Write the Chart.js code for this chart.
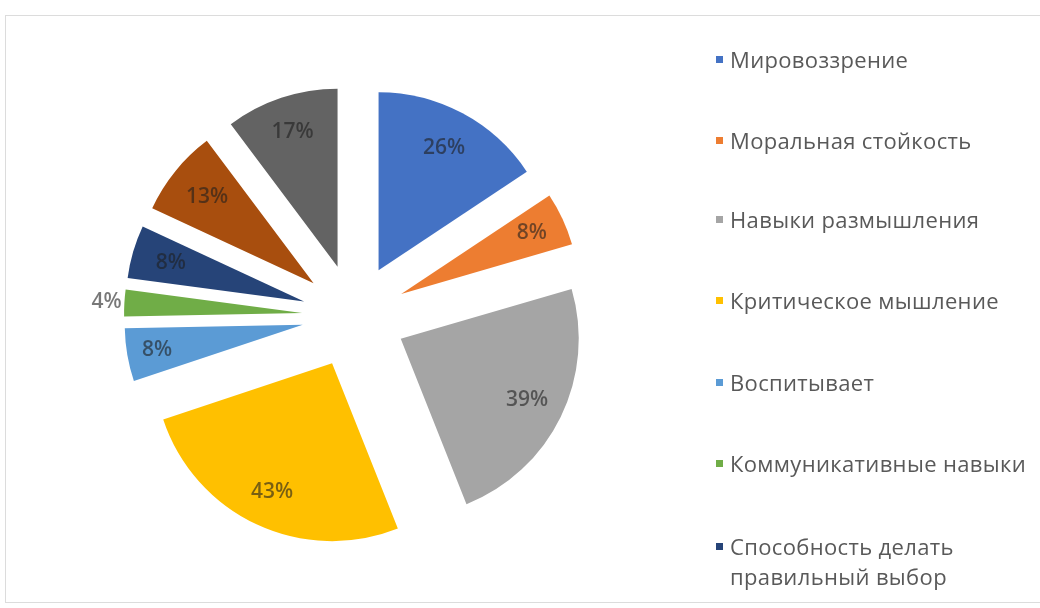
<!DOCTYPE html>
<html>
<head>
<meta charset="utf-8">
<script src="https://cdn.jsdelivr.net/npm/chart.js@4/dist/chart.umd.min.js"></script>
<style>
  html, body { margin:0; padding:0; background:#fff; }
  #wrap { position:relative; width:1040px; height:608px; overflow:hidden; background:#fff; }
  #frame { position:absolute; left:5px; top:15px; width:1100px; height:588px; border:1.5px solid #dcdcdc; box-sizing:border-box; }
  #chart { position:absolute; left:0; top:0; }
  #legend { position:absolute; left:716px; top:0; font-family:"Open Sans", sans-serif; font-size:22px; color:#595959; }
  .item { position:absolute; left:0; white-space:nowrap; line-height:30px; }
  .sw { position:absolute; left:0; top:12px; width:7px; height:7px; }
  .txt { position:absolute; left:14px; top:0; letter-spacing:0.35px; }
</style>
</head>
<body>
<div id="wrap">
  <div id="frame"></div>
  <canvas id="chart" width="1040" height="608"></canvas>
  <div id="legend"></div>
</div>
<script>
const categories = [
  'Мировоззрение',
  'Моральная стойкость',
  'Навыки размышления',
  'Критическое мышление',
  'Воспитывает',
  'Коммуникативные навыки',
  'Способность делать\nправильный выбор',
  '',
  ''
];
const values = [26, 8, 39, 43, 8, 4, 8, 13, 17];
const colors = ['#4472C4', '#ED7D31', '#A5A5A5', '#FFC000', '#5B9BD5', '#70AD47', '#264478', '#A84E0E', '#636363'];
const labelRadius = [0.78, 0.81, 0.79, 0.80, 0.83, 1.10, 0.78, 0.77, 0.80];
const legendCount = 7;
const legendTops = [44, 125, 204, 285, 367, 448, 531];

const explodePlugin = {
  id: 'explode',
  beforeDatasetDraw(chart, args, opts) {
    const ctx = chart.ctx;
    args.meta.data.forEach((arc) => {
      const p = arc.getProps(['startAngle', 'endAngle']);
      const mid = (p.startAngle + p.endAngle) / 2;
      ctx.save();
      ctx.translate(Math.cos(mid) * opts.distance, Math.sin(mid) * opts.distance);
      arc.draw(ctx);
      ctx.restore();
    });
    return false;
  },
  afterDatasetsDraw(chart, args, opts) {
    const ctx = chart.ctx;
    const meta = chart.getDatasetMeta(0);
    ctx.save();
    ctx.font = '600 21px "Open Sans", sans-serif';
    ctx.fillStyle = 'rgba(30,30,30,0.6)';
    ctx.textAlign = 'center';
    ctx.textBaseline = 'middle';
    meta.data.forEach((arc, i) => {
      const p = arc.getProps(['x', 'y', 'startAngle', 'endAngle', 'outerRadius']);
      const mid = (p.startAngle + p.endAngle) / 2;
      const r = opts.distance + labelRadius[i] * p.outerRadius;
      ctx.fillText(values[i] + '%', p.x + Math.cos(mid) * r, p.y + Math.sin(mid) * r);
    });
    ctx.restore();
  }
};

new Chart(document.getElementById('chart'), {
  type: 'pie',
  data: {
    labels: categories,
    datasets: [{
      data: values,
      backgroundColor: colors,
      borderWidth: 0
    }]
  },
  options: {
    responsive: false,
    animation: false,
    radius: 178,
    layout: { padding: { left: 0, right: 332, top: 24, bottom: 0 } },
    plugins: {
      legend: { display: false },
      tooltip: { enabled: false },
      explode: { distance: 52 }
    }
  },
  plugins: [explodePlugin]
});

const legend = document.getElementById('legend');
for (let i = 0; i < legendCount; i++) {
  const item = document.createElement('div');
  item.className = 'item';
  item.style.top = legendTops[i] + 'px';
  const sw = document.createElement('div');
  sw.className = 'sw';
  sw.style.background = colors[i];
  const txt = document.createElement('div');
  txt.className = 'txt';
  txt.innerHTML = categories[i].split('\n').join('<br>');
  item.appendChild(sw);
  item.appendChild(txt);
  legend.appendChild(item);
}
</script>
</body>
</html>
